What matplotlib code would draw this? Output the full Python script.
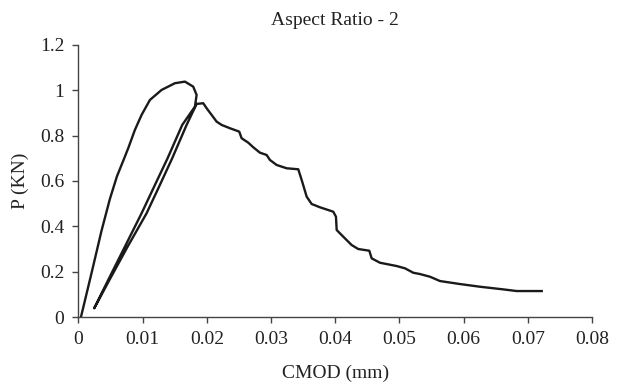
import numpy as np
import matplotlib.pyplot as plt

# CMOD (mm) and load P (KN)
load_x = [0.0004, 0.0021, 0.0036, 0.0049, 0.0060, 0.0070, 0.00776, 0.00880,
          0.00984, 0.01114, 0.01296, 0.01503, 0.01659, 0.01788, 0.01841]
load_y = [0.0, 0.20, 0.38, 0.52, 0.62, 0.69, 0.7442, 0.8249,
          0.8910, 0.9572, 1.0013, 1.0309, 1.0379, 1.0159, 0.9793]

unload_x = [0.01815, 0.01617, 0.01389, 0.01192, 0.00984, 0.00724, 0.00464, 0.00246]
unload_y = [0.9277, 0.8469, 0.7000, 0.5823, 0.4574, 0.3101, 0.1632, 0.0384]

reload_x = [0.00483, 0.00766, 0.01062, 0.01269, 0.01461, 0.01685, 0.01841]
reload_y = [0.1632, 0.3101, 0.4574, 0.5823, 0.7000, 0.8469, 0.9396]

post_x = [0.01944, 0.01997, 0.02075, 0.02153, 0.02231, 0.02360, 0.02464, 0.02505,
          0.02542, 0.02645, 0.02723, 0.02827, 0.02931, 0.02983, 0.03087, 0.03243,
          0.03424, 0.03477, 0.03555, 0.03632, 0.03762, 0.03969, 0.04011, 0.04022,
          0.04125, 0.04255, 0.04358, 0.04530, 0.04567, 0.04696, 0.04956, 0.05086,
          0.05215, 0.05319, 0.05475, 0.05631, 0.05942, 0.06254, 0.06612, 0.06826,
          0.07215]
post_y = [0.9427, 0.9206, 0.8910, 0.8615, 0.8469, 0.8324, 0.8218, 0.8174,
          0.7883, 0.7689, 0.7486, 0.7247, 0.7146, 0.6925, 0.6705, 0.6559,
          0.6515, 0.6043, 0.5307, 0.4985, 0.4839, 0.4645, 0.4424, 0.3838,
          0.3542, 0.3176, 0.3000, 0.2925, 0.2589, 0.2395, 0.2250, 0.2148,
          0.1954, 0.1897, 0.1778, 0.1588, 0.1456, 0.1337, 0.1222, 0.1147,
          0.1147]

x_ticks = [0, 0.01, 0.02, 0.03, 0.04, 0.05, 0.06, 0.07, 0.08]
x_labels = ['0', '0.01', '0.02', '0.03', '0.04', '0.05', '0.06', '0.07', '0.08']
y_ticks = [0, 0.2, 0.4, 0.6, 0.8, 1.0, 1.2]
y_labels = ['0', '0.2', '0.4', '0.6', '0.8', '1', '1.2']

plt.rcParams['font.family'] = ['Liberation Serif', 'DejaVu Serif']
plt.rcParams['font.size'] = 14

cx = load_x + unload_x + reload_x + post_x
cy = load_y + unload_y + reload_y + post_y

fig = plt.figure(figsize=(6.22, 3.9), dpi=100)
ax = fig.add_axes([0.126, 0.187, 0.826, 0.698])
ax.plot(cx, cy, color='#1a1a1a', linewidth=1.7, solid_joinstyle='round')

ax.set_xlim(0, 0.08)
ax.set_ylim(0, 1.2)
ax.set_xticks(x_ticks)
ax.set_xticklabels(x_labels)
ax.set_yticks(y_ticks)
ax.set_yticklabels(y_labels)
for s in ['top', 'right']:
    ax.spines[s].set_visible(False)
for s in ['left', 'bottom']:
    ax.spines[s].set_color('#444444')
    ax.spines[s].set_linewidth(1.0)
ax.tick_params(direction='out', length=4, width=1.0, color='#444444',
               labelcolor='#222222', pad=6)

ax.set_title('Aspect Ratio - 2', fontsize=14, color='#222222', pad=14)
ax.set_xlabel('CMOD (mm)', fontsize=14, color='#222222', labelpad=12)
ax.set_ylabel('P (KN)', fontsize=14, color='#222222', labelpad=8)

fig.savefig('out.png', dpi=100)
